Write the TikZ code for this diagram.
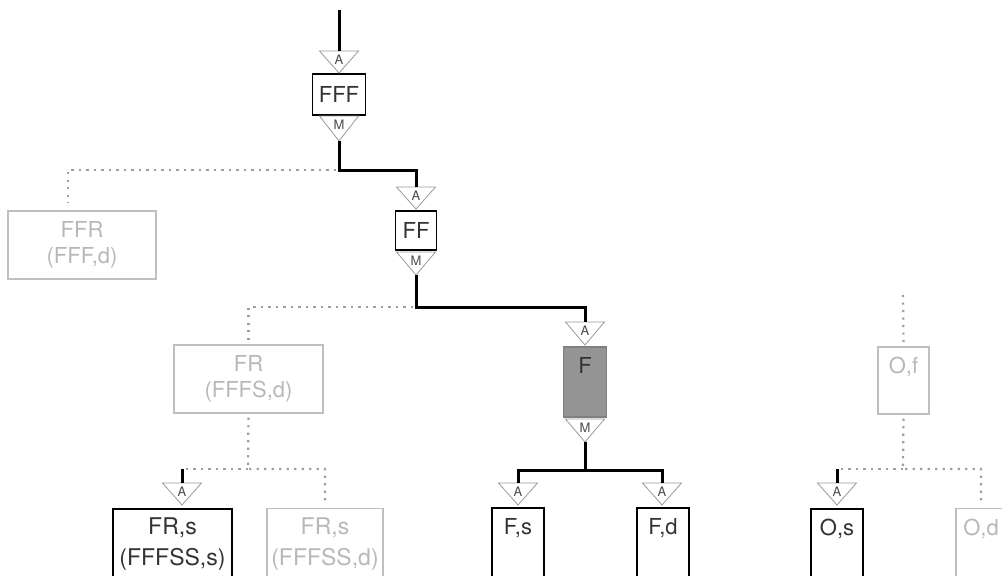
\documentclass[tikz,border=0pt]{standalone}
\usepackage{fontspec}
\setmainfont{TeX Gyre Heros}
\newcommand\mygate[5]{%
  \coordinate (#1t) at (#2,#3);
  \coordinate (#1b) at (#2,{#3+#4});
  \draw[tri] ({#2-19.5},#3) -- ({#2+19.5},#3) -- (#2,{#3+#4}) -- cycle;
  \node[trilabel] (#1) at (#2,{#3+9}) {#5};
}
\begin{document}
\begin{tikzpicture}[x=1pt,y=-1pt,
  every node/.style={font=\fontsize{22}{26}\selectfont},
  big/.style={font=\fontsize{23}{31}\selectfont},
  main/.style={line width=3pt, black},
  dotline/.style={draw=black!38, line width=2.2pt, dash pattern=on 2.2pt off 5.3pt},
  darkbox/.style={draw=black, line width=1.8pt, inner sep=0pt, text=black!80, align=center},
  graybox/.style={draw=black!25, line width=1.4pt, inner sep=0pt, text=black!28, align=center},
  fbox/.style={draw=black!50, fill=black!42, line width=1.4pt, inner sep=0pt},
  tri/.style={draw=black!40, line width=0.8pt},
  trilabel/.style={font=\fontsize{13}{15}\selectfont, text=black!70, inner sep=0pt},
  topdark/.style={anchor=north, inner sep=0pt, yshift=-11pt, text=black!80, align=center},
  topgray/.style={anchor=north, inner sep=0pt, yshift=-11pt, text=black!28, align=center},
]
\useasboundingbox (0,0) rectangle (1002,576);
\clip (0,0) rectangle (1002,576);

% boxes
\node[darkbox, minimum width=53, minimum height=41] (FFF) at (339,94.5) {FFF};
\node[darkbox, minimum width=41, minimum height=39] (FF) at (416,230.5) {FF};
\node[graybox, minimum width=148, minimum height=68] (FFR) at (82,245) {FFR\\(FFF,d)};
\node[graybox, minimum width=149, minimum height=68] (FR) at (248.5,379) {FR\\(FFFS,d)};
\node[fbox, minimum width=43, minimum height=70, label={[topdark]north:F}] (F) at (585,382) {};
\node[darkbox, minimum width=52, minimum height=93, anchor=north, label={[topdark]north:F,s}] (Fs) at (518,507) {};
\node[darkbox, minimum width=52, minimum height=93, anchor=north, label={[topdark]north:F,d}] (Fd) at (663,507) {};
\node[darkbox, minimum width=119, minimum height=93, anchor=north, label={[topdark,big,yshift=1pt]north:FR,s\\(FFFSS,s)}] (FRs) at (172.5,508) {};
\node[graybox, minimum width=116, minimum height=93, anchor=north, label={[topgray,big,yshift=1pt]north:FR,s\\(FFFSS,d)}] (FRsg) at (325,508) {};
\node[graybox, minimum width=51, minimum height=67, label={[topgray]north:O,f}] (Of) at (903.5,380.5) {};
\node[darkbox, minimum width=52, minimum height=93, anchor=north, label={[topdark]north:O,s}] (Os) at (837,508) {};
\node[graybox, minimum width=50, minimum height=93, anchor=north, label={[topgray]north:O,d}] (Od) at (981,508) {};

% gates
\mygate{gA1}{339}{51}{22}{A}
\mygate{gM1}{339}{116}{25}{M}
\mygate{gA2}{416}{187}{22}{A}
\mygate{gM2}{416}{252}{23}{M}
\mygate{gA3}{585}{322}{23}{A}
\mygate{gM3}{585}{419}{23}{M}
\mygate{gA4}{518}{483}{22}{A}
\mygate{gA5}{662}{483}{22}{A}
\mygate{gA6}{182}{483}{22}{A}
\mygate{gA7}{837}{483}{22}{A}

% junctions
\coordinate (top) at (339,10);
\coordinate (j1) at (339,170);
\coordinate (ffrc) at (68,170);
\coordinate (j2) at (416,307);
\coordinate (j3) at (248,469);
\coordinate (k3) at (182,469);
\coordinate (j4) at (585,470);
\coordinate (j5) at (903,469);
\coordinate (k5) at (837,469);
\coordinate (ofTop) at (903,295);

% dotted (inactive) connectors
\draw[dotline, shorten <=3pt, shorten >=7pt] (j1) -- (ffrc) -- (FFR.north -| ffrc);
\draw[dotline, shorten <=3pt, shorten >=3pt] (j2) -| (FR.north);
\draw[dotline, shorten <=4pt, shorten >=5pt] (FR.south) -- (j3) -| (FRsg.north);
\draw[dotline, shorten >=3pt] (j3) -- (k3);
\draw[dotline, shorten >=3pt] (ofTop) -- (Of.north);
\draw[dotline, shorten <=4pt, shorten >=5pt] (Of.south) -- (j5) -| (Od.north);
\draw[dotline, shorten >=3pt] (j5) -- (k5);

% active connectors
\draw[main] (top) -- (gA1t);
\draw[main] (gM1b) -- (j1) -| (gA2t);
\draw[main] (gM2b) -- (j2) -| (gA3t);
\draw[main] (gM3b) -- (j4) -| (gA4t);
\draw[main] (j4) -| (gA5t);
\draw[main] (k3) -- (gA6t);
\draw[main] (k5) -- (gA7t);
\end{tikzpicture}
\end{document}
